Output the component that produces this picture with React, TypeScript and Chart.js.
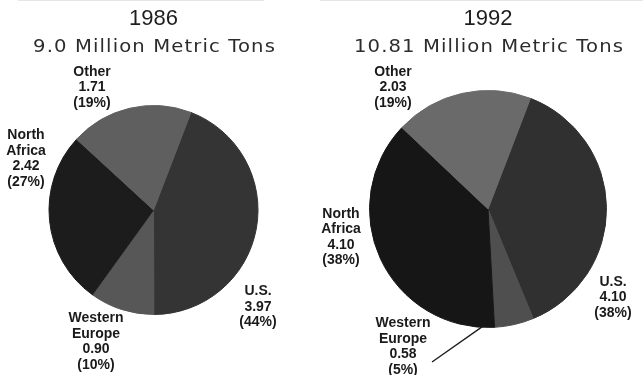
import React, { useEffect, useRef } from "react";
import { Chart, registerables } from "chart.js";

Chart.register(...registerables);

// Slice order runs clockwise from the U.S. wedge.
const regions = ["U.S.", "Western Europe", "North Africa", "Other"];
const regionLines = [["U.S."], ["Western", "Europe"], ["North", "Africa"], ["Other"]];
const years = ["1986", "1992"];
const totalsText = ["9.0 Million Metric Tons", "10.81 Million Metric Tons"];
const values1986 = [3.97, 0.9, 2.42, 1.71];
const values1992 = [4.1, 0.58, 4.1, 2.03];

const shades1986 = ["#343434", "#575757", "#1c1c1c", "#5f5f5f"];
const shades1992 = ["#303030", "#4f4f4f", "#161616", "#6a6a6a"];

type PanelCfg = {
  year: string;
  total: string;
  values: number[];
  shades: string[];
  canvasLeft: number;
  canvasWidth: number;
  padding: { left: number; right: number; top: number; bottom: number };
  // label anchor offsets from the pie centre (first text line centre)
  labelOffsets: [number, number][];
  leader?: { index: number; from: [number, number] };
  rule: [number, number];
};

const panels: PanelCfg[] = [
  {
    year: years[0],
    total: totalsText[0],
    values: values1986,
    shades: shades1986,
    canvasLeft: 0,
    canvasWidth: 320,
    padding: { left: 48, right: 61, top: 105, bottom: 60 },
    labelOffsets: [
      [104.5, 81.5],
      [-57.5, 108.5],
      [-127.5, -74.5],
      [-61.5, -138],
    ],
    rule: [18, 264],
  },
  {
    year: years[1],
    total: totalsText[1],
    values: values1992,
    shades: shades1992,
    canvasLeft: 320,
    canvasWidth: 323,
    padding: { left: 49, right: 36, top: 90, bottom: 47 },
    labelOffsets: [
      [125, 73],
      [-85, 114.5],
      [-147, 5],
      [-95, -137],
    ],
    leader: { index: 1, from: [-56, 153] },
    rule: [0, 323],
  },
];

function makeNotes(cfg: PanelCfg) {
  return {
    id: "pieNotes",
    afterDraw(chart: any) {
      const ctx: CanvasRenderingContext2D = chart.ctx;
      const arcs = chart.getDatasetMeta(0).data;
      if (!arcs.length) return;
      const cx = arcs[0].x;
      const cy = arcs[0].y;
      const total = cfg.values.reduce((a, b) => a + b, 0);
      ctx.save();

      // faint rule along the top edge
      ctx.strokeStyle = "#e6e6e6";
      ctx.lineWidth = 1;
      ctx.beginPath();
      ctx.moveTo(cfg.rule[0], 0.5);
      ctx.lineTo(cfg.rule[1], 0.5);
      ctx.stroke();

      // year heading
      ctx.fillStyle = "#1e1e1e";
      ctx.textAlign = "center";
      ctx.textBaseline = "middle";
      ctx.font = "22px 'Liberation Sans', Arial, sans-serif";
      ctx.fillText(cfg.year, cx, 19);

      // total tonnage line, set in a widened face
      ctx.save();
      ctx.translate(cx + 1, 47);
      ctx.scale(1.12, 1);
      ctx.font = "17.5px 'DejaVu Sans', sans-serif";
      (ctx as any).letterSpacing = "1px";
      ctx.fillStyle = "#2c2c2c";
      ctx.fillText(cfg.total, 0, 0);
      ctx.restore();

      // slice labels: name, value, share
      ctx.font = "bold 14px 'Liberation Sans', Arial, sans-serif";
      ctx.fillStyle = "#1a1a1a";
      const lh = 15.5;
      cfg.values.forEach((v, i) => {
        const [dx, dy] = cfg.labelOffsets[i];
        const lines = [
          ...regionLines[i],
          v.toFixed(2),
          "(" + Math.round((v / total) * 100) + "%)",
        ];
        lines.forEach((t, k) => ctx.fillText(t, cx + dx, cy + dy + k * lh));
      });

      // leader from a label to its thin wedge
      if (cfg.leader) {
        const arc = arcs[cfg.leader.index];
        const ang = arc.endAngle + 0.1;
        const r = arc.outerRadius - 1;
        ctx.strokeStyle = "#1a1a1a";
        ctx.lineWidth = 1.3;
        ctx.beginPath();
        ctx.moveTo(cx + cfg.leader.from[0], cy + cfg.leader.from[1]);
        ctx.lineTo(cx + Math.cos(ang) * r, cy + Math.sin(ang) * r);
        ctx.stroke();
      }
      ctx.restore();
    },
  };
}

function PiePanel({ cfg }: { cfg: PanelCfg }) {
  const ref = useRef<HTMLCanvasElement>(null);
  useEffect(() => {
    const chart = new Chart(ref.current!, {
      type: "pie",
      data: {
        labels: regions,
        datasets: [
          {
            data: cfg.values,
            backgroundColor: cfg.shades,
            borderColor: cfg.shades,
            borderWidth: 1,
          },
        ],
      },
      options: {
        responsive: false,
        animation: false,
        rotation: 21,
        layout: { padding: cfg.padding },
        plugins: {
          legend: { display: false },
          tooltip: { enabled: false },
        },
      },
      plugins: [makeNotes(cfg)],
    });
    return () => chart.destroy();
  }, [cfg]);
  return (
    <canvas
      ref={ref}
      width={cfg.canvasWidth}
      height={375}
      style={{
        position: "absolute",
        left: cfg.canvasLeft,
        top: 0,
        width: cfg.canvasWidth,
        height: 375,
      }}
    />
  );
}

export default function App() {
  useEffect(() => {
    document.body.style.margin = "0";
    document.body.style.background = "#ffffff";
  }, []);
  return (
    <div style={{ position: "relative", width: 643, height: 375, background: "#fff" }}>
      {panels.map((p) => (
        <PiePanel key={p.year} cfg={p} />
      ))}
    </div>
  );
}
